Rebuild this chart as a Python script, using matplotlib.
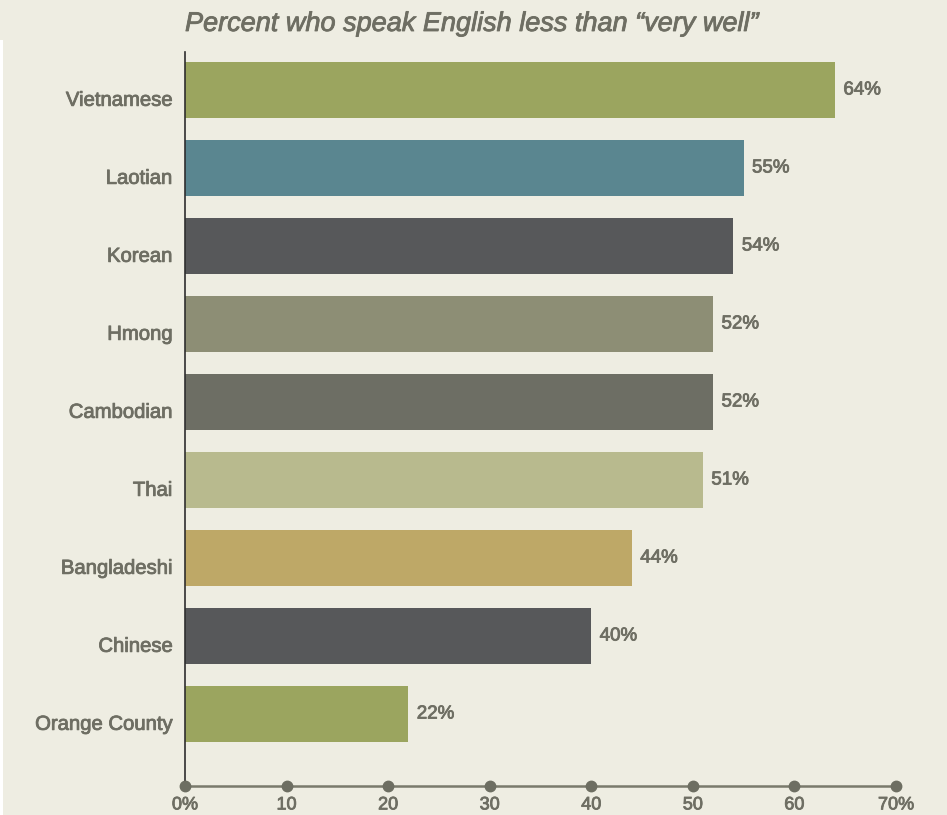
import matplotlib
matplotlib.use("Agg")
import matplotlib.pyplot as plt
import matplotlib.transforms as mtransforms
import matplotlib.patheffects as pe
from matplotlib.patches import Rectangle

# Data
groups = ["Vietnamese", "Laotian", "Korean", "Hmong", "Cambodian",
          "Thai", "Bangladeshi", "Chinese", "Orange County"]
percents = [64, 55, 54, 52, 52, 51, 44, 40, 22]
bar_colors = ["#9BA55F", "#5A8690", "#57585A", "#8D8E75", "#6D6E64",
              "#B8BA8E", "#BEA867", "#57585A", "#9BA55F"]
tick_values = [0, 10, 20, 30, 40, 50, 60, 70]
tick_labels = ["0%", "10", "20", "30", "40", "50", "60", "70%"]
title = "Percent who speak English less than \u201cvery well\u201d"

BG = "#EEEDE2"
TEXT = "#6E6E63"
AXIS = "#7A7A6C"

plt.rcParams["font.family"] = ["Liberation Sans", "DejaVu Sans"]

# slightly heavier than regular weight
medium = [pe.withStroke(linewidth=0.6, foreground=TEXT)]

fig = plt.figure(figsize=(9.47, 8.15), dpi=100, facecolor=BG)
ax = fig.add_axes([185 / 947, 1 - 786 / 815, (896 - 185) / 947, (786 - 52) / 815])
ax.set_facecolor(BG)

n = len(groups)
ypos = [n - 1 - i for i in range(n)]
ax.barh(ypos, percents, height=0.73, color=bar_colors, zorder=2)

ax.set_xlim(0, 70)
ax.set_ylim(-0.923, n - 1 + 0.487)

# value labels at bar ends
for y, v in zip(ypos, percents):
    ax.annotate(f"{v}%", xy=(v, y), xytext=(6, 0), textcoords="offset points",
                ha="left", va="center", fontsize=13.5, color=TEXT, path_effects=medium)

# category labels
ax.set_yticks(ypos)
ax.set_yticklabels(groups, fontsize=14.6, color=TEXT)
ax.tick_params(axis="y", length=0, pad=9)
offset = mtransforms.ScaledTranslation(0, -6 / 72, fig.dpi_scale_trans)
for lab in ax.get_yticklabels():
    lab.set_transform(lab.get_transform() + offset)
    lab.set_path_effects(medium)

# x axis with dot ticks
ax.set_xticks(tick_values)
ax.set_xticklabels(tick_labels, fontsize=13, color=TEXT)
for lab in ax.get_xticklabels():
    lab.set_path_effects(medium)
ax.tick_params(axis="x", length=0, pad=7.5)
ax.plot(tick_values, [0] * len(tick_values), "o", color="#6D6E62", markersize=7.5,
        transform=ax.get_xaxis_transform(), clip_on=False, zorder=5)

for s in ["top", "right"]:
    ax.spines[s].set_visible(False)
ax.spines["bottom"].set_color(AXIS)
ax.spines["bottom"].set_linewidth(1.8)
ax.spines["left"].set_color("#2E2E2E")
ax.spines["left"].set_linewidth(1.2)

fig.text(185 / 947, 1 - 24 / 815, title, ha="left", va="center", fontsize=19.5,
         style="italic", color=TEXT, path_effects=medium)

# thin white edge on the left
fig.patches.append(Rectangle((0, 0), 3 / 947, 1 - 40 / 815, transform=fig.transFigure,
                             facecolor="white", edgecolor="none"))

fig.savefig("out.png", dpi=100, facecolor=BG)
